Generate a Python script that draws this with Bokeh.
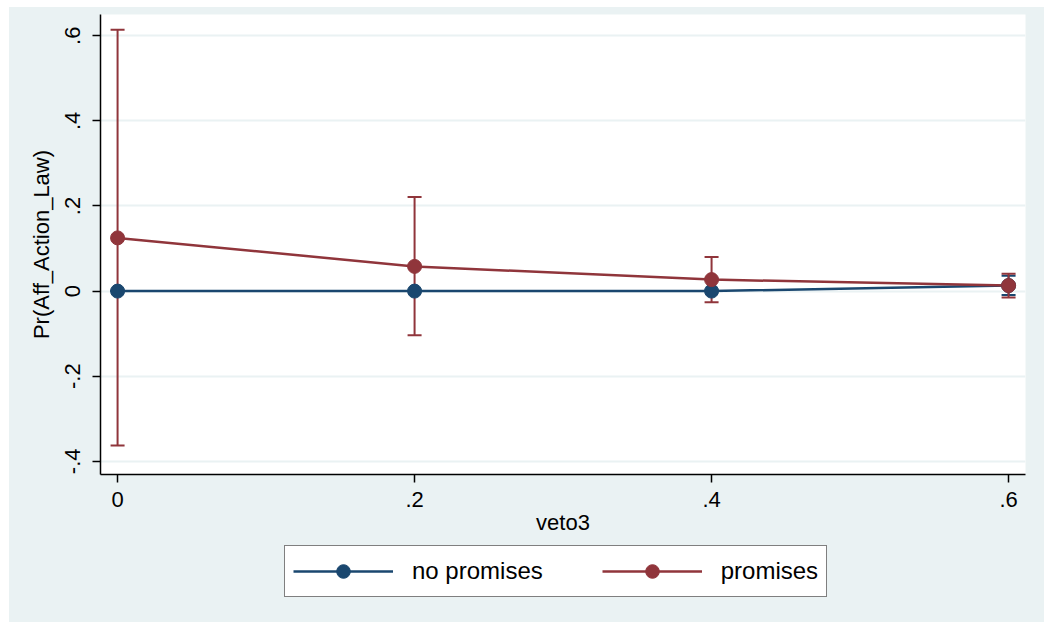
from bokeh.plotting import figure
from bokeh.models import ColumnDataSource, FixedTicker, Range1d, Legend, LegendItem, Spacer
from bokeh.layouts import column, row
from bokeh.embed import file_html
from bokeh.resources import INLINE

# ---- data ----
veto3 = [0.0, 0.2, 0.4, 0.6]
x_ticks = [0.0, 0.2, 0.4, 0.6]
x_tick_labels = ["0", ".2", ".4", ".6"]
y_ticks = [-0.4, -0.2, 0.0, 0.2, 0.4, 0.6]
y_tick_labels = ["-.4", "-.2", "0", ".2", ".4", ".6"]
series_names = ["no promises", "promises"]

no_prom = [0.0, 0.0, 0.0, 0.013]
no_prom_lo = [0.0, 0.0, 0.0, -0.009]
no_prom_hi = [0.0, 0.0, 0.0, 0.036]

prom = [0.125, 0.058, 0.027, 0.013]
prom_lo = [-0.363, -0.104, -0.026, -0.015]
prom_hi = [0.614, 0.221, 0.080, 0.041]

NAVY = "#1a476f"
MAROON = "#90353b"
BG = "#eaf2f3"
FONT = "Liberation Sans"

src_n = ColumnDataSource(dict(x=veto3, y=no_prom, lo=no_prom_lo, hi=no_prom_hi))
src_p = ColumnDataSource(dict(x=veto3, y=prom, lo=prom_lo, hi=prom_hi))

p = figure(width=1035, height=533, output_backend="svg", toolbar_location=None,
           x_range=Range1d(-0.0115, 0.6114), y_range=Range1d(-0.431, 0.650),
           min_border_left=91, min_border_right=19, min_border_top=7, min_border_bottom=66)
p.border_fill_color = BG
p.background_fill_color = "white"
p.outline_line_color = None

# grid
p.xgrid.grid_line_color = None
p.ygrid.grid_line_color = BG
p.ygrid.grid_line_width = 2
p.ygrid.ticker = FixedTicker(ticks=y_ticks)

# axes
p.xaxis.ticker = FixedTicker(ticks=x_ticks)
p.xaxis.major_label_overrides = {t: l for t, l in zip(x_ticks, x_tick_labels)}
p.yaxis.ticker = FixedTicker(ticks=y_ticks)
p.yaxis.major_label_overrides = {t: l for t, l in zip(y_ticks, y_tick_labels)}
p.yaxis.major_label_orientation = "vertical"
for ax in (p.xaxis[0], p.yaxis[0]):
    ax.axis_line_color = "black"
    ax.axis_line_width = 1.5
    ax.major_tick_line_color = "black"
    ax.major_tick_line_width = 1.5
    ax.major_tick_out = 8
    ax.major_tick_in = 0
    ax.minor_tick_line_color = None
    ax.major_label_text_font = FONT
    ax.major_label_text_font_size = "22px"
    ax.major_label_text_color = "black"
    ax.axis_label_text_font = FONT
    ax.axis_label_text_font_size = "22px"
    ax.axis_label_text_font_style = "normal"
    ax.axis_label_text_color = "black"
p.xaxis.axis_label = "veto3"
p.yaxis.axis_label = "Pr(Aff_Action_Law)"
p.xaxis.major_label_standoff = 9
p.xaxis.axis_label_standoff = 0
p.yaxis.major_label_standoff = 12
p.yaxis.axis_label_standoff = 9

# confidence intervals (caps)
for src, col in ((src_n, NAVY), (src_p, MAROON)):
    p.segment(x0="x", y0="lo", x1="x", y1="hi", source=src, line_color=col, line_width=2)
    p.scatter(x="x", y="lo", source=src, marker="dash", size=14, line_color=col, line_width=2)
    p.scatter(x="x", y="hi", source=src, marker="dash", size=14, line_color=col, line_width=2)

p.line(x="x", y="y", source=src_n, line_color=NAVY, line_width=2.5)
p.line(x="x", y="y", source=src_p, line_color=MAROON, line_width=2.5)
p.scatter(x="x", y="y", source=src_n, marker="circle", size=14, fill_color=NAVY, line_color=NAVY)
p.scatter(x="x", y="y", source=src_p, marker="circle", size=14, fill_color=MAROON, line_color=MAROON)

# ---- legend strip below the plot ----
# the same series are drawn here, but the y range excludes them, so only
# their legend glyphs are visible
lf = figure(width=1035, height=82, output_backend="svg", toolbar_location=None,
            x_range=Range1d(0, 1), y_range=Range1d(10, 11),
            x_axis_type=None, y_axis_type=None,
            min_border_left=0, min_border_right=0, min_border_top=0, min_border_bottom=0)
lf.border_fill_color = BG
lf.background_fill_color = BG
lf.outline_line_color = None
lf.grid.visible = False

for fig in (p, lf):
    try:
        fig.styles = {"background-color": BG}
    except Exception:
        pass

unaligned = True
try:
    p.frame_align = False
    lf.frame_align = False
except Exception:
    unaligned = False

items = []
for name, col, src in zip(series_names, (NAVY, MAROON), (src_n, src_p)):
    r_line = lf.line(x="x", y="y", source=src, line_color=col, line_width=2.5)
    r_mark = lf.scatter(x="x", y="y", source=src, marker="circle", size=14,
                        fill_color=col, line_color=col)
    items.append(LegendItem(label=name, renderers=[r_line, r_mark]))

legend = Legend(items=items, orientation="horizontal",
                location=(275 if unaligned else 184, 25))
legend.label_text_font = FONT
legend.label_text_font_size = "24px"
legend.label_text_color = "black"
legend.glyph_width = 100
legend.glyph_height = 34
legend.label_standoff = 19
legend.spacing = 59
legend.padding = 8
legend.margin = 0
legend.border_line_color = "black"
legend.border_line_width = 1.5
legend.background_fill_color = "white"
legend.background_fill_alpha = 1.0
lf.add_layout(legend)

layout = column(Spacer(height=7), row(Spacer(width=9), column(p, lf, spacing=0), spacing=0), spacing=0)

open("out.html", "w").write(file_html(layout, INLINE))
